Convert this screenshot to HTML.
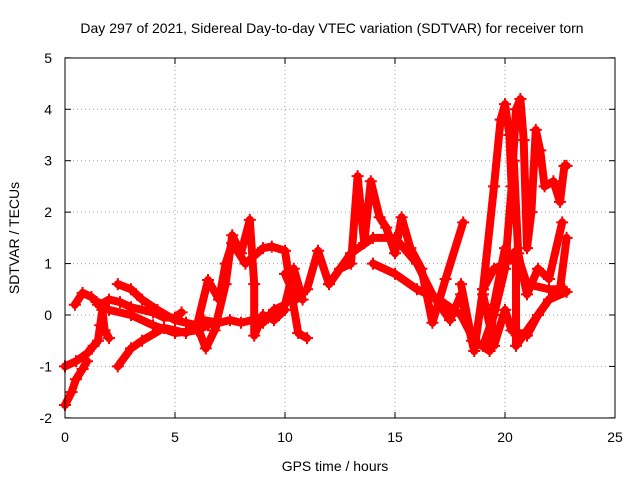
<!DOCTYPE html>
<html><head><meta charset="utf-8"><style>
body{margin:0;background:#fff}
svg{display:block;font-family:"Liberation Sans",sans-serif}
</style></head><body>
<svg id="chart" width="640" height="480">
<rect width="640" height="480" fill="#fff"/>
<text x="332" y="33" font-size="14" text-anchor="middle">Day 297 of 2021, Sidereal Day-to-day VTEC variation (SDTVAR) for receiver torn</text>
<text x="335" y="471" font-size="14" text-anchor="middle">GPS time / hours</text>
<text transform="translate(19,238) rotate(-90)" font-size="14" text-anchor="middle">SDTVAR / TECUs</text>
<g id="grid"></g>
<g id="ticks"></g>
<g id="marks"></g>
<rect x="65" y="58" width="550" height="360" fill="none" stroke="#000" stroke-width="1"/>
</svg>
<script>
const xTicks=[0,5,10,15,20,25];
const yTicks=[-2,-1,0,1,2,3,4,5];
const track1=[[0,-1.75],[0.3,-1.5],[0.5,-1.25],[0.8,-1.05],[1,-0.9]];
const track2=[[0,-1],[0.5,-0.9],[1,-0.75],[1.3,-0.6],[1.5,-0.5],[1.6,-0.2],[1.7,0.1],[1.8,-0.3],[2,-0.45]];
const track3=[[0.45,0.2],[0.8,0.43],[1.2,0.35],[1.6,0.2],[2,0.3],[2.5,0.25],[3,0.15],[4,0.05],[4.5,-0.05],[5,-0.05],[5.3,0.05]];
const track3b=[[1.5,0.2],[2,0.1],[3,0],[4,-0.2],[5,-0.35],[6,-0.3],[6.5,-0.2]];
const track4=[[2.4,-1],[3,-0.65],[3.5,-0.5],[4.5,-0.25],[5,-0.3],[5.5,-0.35],[6,-0.2],[6.4,-0.65],[6.8,-0.3],[7.3,0.6],[7.6,1.55],[8,1.2],[8.4,1.85],[8.6,0.6],[8.6,-0.4],[9,0],[9.5,-0.1],[10,0.1]];
const track5=[[2.4,0.6],[3,0.5],[3.5,0.3],[4.2,0.1],[5,-0.1],[5.5,-0.15],[6,-0.2],[6.5,0.68],[7,0.3],[7.3,1.0],[7.6,1.4],[8.2,1.0],[9,1.3],[9.4,1.33],[10,1.25],[10.3,0.4],[10.6,-0.35],[11,-0.45]];
const track5b=[[6.3,-0.1],[7,-0.15],[7.5,-0.1],[8,-0.15],[8.5,-0.1],[9,-0.15],[9.5,0.1],[10,0.2],[10.4,0.9],[10.8,0.3]];
const track6=[[10,0.8],[10.5,0.3],[11,0.5],[11.5,1.25],[12,0.6],[12.5,0.9],[13,1],[13.3,2.7],[13.6,1.4],[13.9,2.6],[14.3,1.9],[14.6,1.7],[15,1.2],[15.3,1.9],[15.7,1.3],[16.2,0.9],[16.7,-0.15],[17.3,0.7],[18.1,1.8]];
const track7=[[12,0.6],[13,1.2],[14,1.5],[15,1.5],[16,1],[16.7,0.4],[17.5,-0.1],[18,0.4],[18.6,-0.7],[19,0.5],[19.5,0.9],[20,1],[20.5,1.25],[21,0.6],[22,0.5],[22.7,0.5]];
const track8=[[14,1],[15,0.8],[16,0.5],[17,0.3],[18,0],[18.6,-0.5],[19.3,-0.7],[19.5,0.2],[20,1.3],[20.5,1],[20.5,-0.6],[21,-0.3],[21.5,0],[22,0.3],[22.8,0.45]];
const track9=[[19,0.5],[19.5,2.5],[19.8,3.8],[20,4.1],[20.2,3.5],[20.3,2.5],[20.5,4],[20.7,4.2],[20.85,3.4],[21,1.3],[21.2,2],[21.4,3.6],[21.6,3.2],[21.8,2.5],[22.2,2.6],[22.5,2.2],[22.7,2.9],[22.8,2.9]];
const track10=[[18,0.6],[18.5,-0.5],[19,-0.6],[19.5,0],[20,0.9],[20.4,3],[20.6,1.2],[21,0.4],[21.5,0.9],[22,0.7],[22.6,1.8]];
const track11=[[19,0.4],[19.5,-0.6],[20,0.1],[20.3,-0.3],[21,-0.4],[21.5,0],[22,0.3],[22.5,0.5],[22.8,1.5]];
const tracks=[track1,track2,track3,track3b,track4,track5,track5b,track6,track7,track8,track9,track10,track11];
const NS="http://www.w3.org/2000/svg";
function sx(v){return 65+v*22;}
function sy(v){return 315-v*(360/7);}
function mk(tag,attrs,parent){const e=document.createElementNS(NS,tag);for(const k in attrs)e.setAttribute(k,attrs[k]);parent.appendChild(e);return e;}
const grid=document.getElementById('grid'),ticks=document.getElementById('ticks'),marks=document.getElementById('marks');
xTicks.forEach(t=>{
  if(t>0&&t<25){const l=mk('line',{x1:sx(t),x2:sx(t),y1:58,y2:418,stroke:'#a0a0a0','stroke-dasharray':'1,3'},grid);
  
  }
  const tx=mk('text',{x:sx(t),y:442,'font-size':14,'text-anchor':'middle'},ticks);tx.textContent=t;
  
  
  mk('line',{x1:sx(t),x2:sx(t),y1:418,y2:412,stroke:'#000'},ticks);
  mk('line',{x1:sx(t),x2:sx(t),y1:58,y2:64,stroke:'#000'},ticks);
});
yTicks.forEach(t=>{
  if(t>-2&&t<5){const l=mk('line',{x1:65,x2:615,y1:sy(t),y2:sy(t),stroke:'#a0a0a0','stroke-dasharray':'1,3'},grid);
  
  }
  const tx=mk('text',{x:52,y:sy(t)+5,'font-size':14,'text-anchor':'end'},ticks);tx.textContent=t;
  
  
  mk('line',{x1:65,x2:71,y1:sy(t),y2:sy(t),stroke:'#000'},ticks);
  mk('line',{x1:615,x2:609,y1:sy(t),y2:sy(t),stroke:'#000'},ticks);
});
tracks.forEach((tr,i)=>{
  const p=mk('polyline',{points:tr.map(d=>sx(d[0])+','+sy(d[1])).join(' '),fill:'none',stroke:'#f00','stroke-width':8,'stroke-linejoin':'round','stroke-linecap':'round'},marks);
  
  
  tr.forEach(d=>{
    const x=sx(d[0]),y=sy(d[1]);
    const m=mk('path',{d:`M${x-6},${y}H${x+6}M${x},${y-6}V${y+6}`,stroke:'#f00','stroke-width':2},marks);
    
    
  });
});
</script>
</body></html>
